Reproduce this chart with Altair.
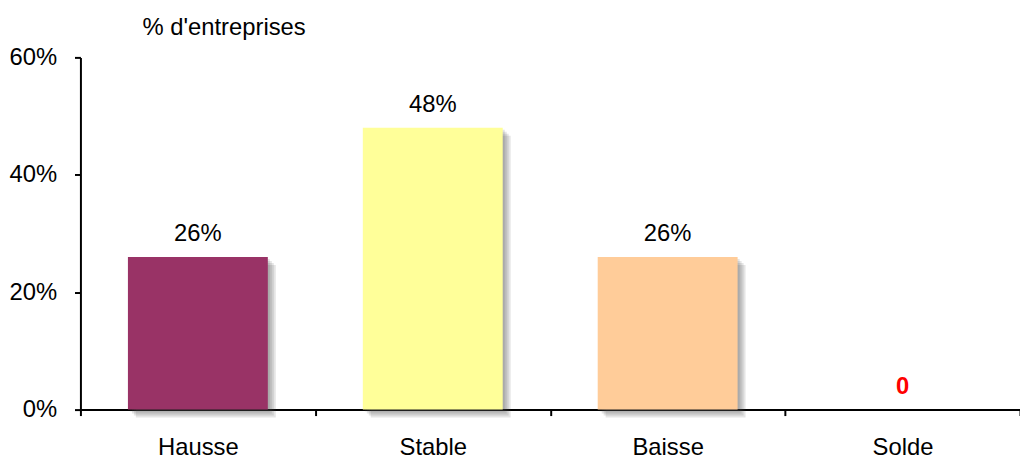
import altair as alt
import pandas as pd

categories = ["Hausse", "Stable", "Baisse", "Solde"]
values = [0.26, 0.48, 0.26, 0.0]
labels = ["26%", "48%", "26%", "0"]
bar_colors = ["#993366", "#FFFF99", "#FFCC99", "#FFFFFF"]
label_colors = ["#000000", "#000000", "#000000", "#FF0000"]
label_weights = ["normal", "normal", "normal", "bold"]

df = pd.DataFrame({
    "cat": categories,
    "val": values,
    "label": labels,
    "lcolor": label_colors,
    "lweight": label_weights,
})

FONT = "Liberation Sans"
FS = 24

x = alt.X("cat:N", sort=categories,
          scale=alt.Scale(paddingInner=0, paddingOuter=0),
          axis=alt.Axis(title=None, labelAngle=0, labelFontSize=FS, labelFont=FONT, labelColor="black",
                        labelPadding=20, tickBand="extent", tickSize=6, tickWidth=2, tickColor="black",
                        domainColor="black", domainWidth=2))
y = alt.Y("val:Q", scale=alt.Scale(domain=[0, 0.6]),
          axis=alt.Axis(values=[0, 0.2, 0.4, 0.6], format=".0%", grid=False, labelFontSize=FS,
                        labelFont=FONT, labelColor="black", labelPadding=18, tickSize=6, tickWidth=2,
                        tickColor="black", domainColor="black", domainWidth=2,
                        title="% d'entreprises", titleAngle=0, titleAlign="left", titleBaseline="alphabetic",
                        titleX=62, titleY=-23, titleFont=FONT, titleFontSize=FS, titleFontWeight="normal",
                        titleColor="black"))

base = alt.Chart(df)

shadows = []
for off in [2, 4, 6, 8]:
    shadows.append(
        base.mark_bar(size=141, color="#444444", opacity=0.14, xOffset=off, yOffset=off, y2Offset=off)
        .encode(x=x, y=y)
    )

bars = base.mark_bar(size=141).encode(
    x=x, y=y,
    color=alt.Color("cat:N", scale=alt.Scale(domain=categories, range=bar_colors), legend=None),
)

text_normal = base.transform_filter(alt.datum.lweight == "normal").mark_text(
    dy=-16, baseline="alphabetic", fontSize=FS, font=FONT, color="black"
).encode(x=x, y=y, text="label:N")

text_bold = base.transform_filter(alt.datum.lweight == "bold").mark_text(
    dy=-16, baseline="alphabetic", fontSize=FS, font=FONT, fontWeight="bold", color="#FF0000"
).encode(x=x, y=y, text="label:N")

chart = alt.layer(*shadows, bars, text_normal, text_bold).properties(
    width=947, height=355,
    autosize=alt.AutoSizeParams(type="none"),
    padding={"left": 73, "top": 48, "right": 0, "bottom": 48},
).configure(background="white").configure_view(stroke=None)

chart.save("out.html", embed_options={"renderer": "svg", "actions": False})
